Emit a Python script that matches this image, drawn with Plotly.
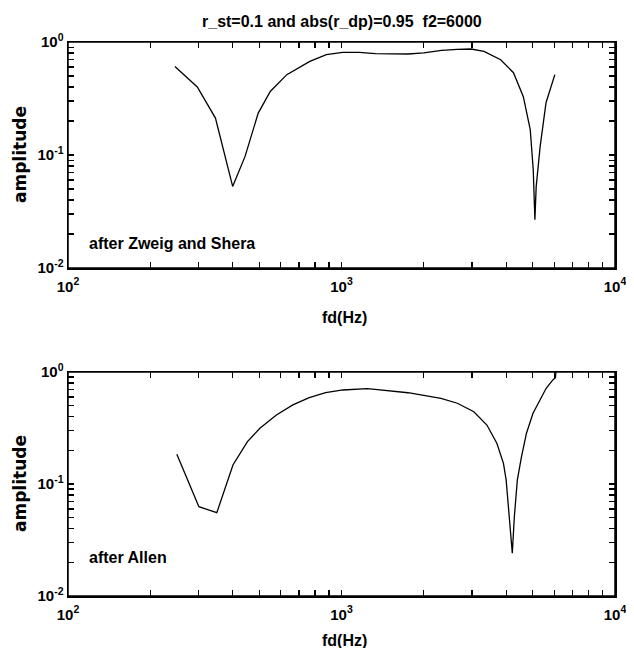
import plotly.graph_objects as go

# ---- data ----
freq_zs = [246, 297, 346, 400, 444, 496, 549, 631, 766, 880, 1010, 1160, 1331, 1550,
           1750, 2000, 2322, 2650, 2978, 3317, 3819, 4254, 4622, 4899, 5024, 5095,
           5150, 5323, 5595, 6026]
amp_zs = [0.608, 0.400, 0.212, 0.0527, 0.0972, 0.235, 0.365, 0.514, 0.673, 0.772,
          0.809, 0.809, 0.788, 0.780, 0.783, 0.800, 0.843, 0.860, 0.867, 0.826,
          0.697, 0.535, 0.328, 0.168, 0.074, 0.0268, 0.0524, 0.118, 0.290, 0.514]

freq_allen = [250, 301, 350, 401, 453, 503, 578, 664, 762, 875, 1012, 1154, 1240, 1327,
              1750, 2310, 2652, 3047, 3401, 3698, 3910, 3999, 4111, 4212, 4285, 4395,
              4550, 4746, 5015, 5303, 5602, 5926, 6058, 6080]
amp_allen = [0.184, 0.0627, 0.0554, 0.148, 0.239, 0.314, 0.413, 0.508, 0.590, 0.653,
             0.691, 0.705, 0.710, 0.701, 0.653, 0.582, 0.526, 0.442, 0.336, 0.231,
             0.153, 0.109, 0.051, 0.0241, 0.051, 0.109, 0.175, 0.284, 0.428, 0.562,
             0.715, 0.849, 0.889, 1.0]

title_text = "r_st=0.1 and abs(r_dp)=0.95\u00a0 f2=6000"
panel_labels = ["after Zweig and Shera", "after Allen"]
x_title = "fd(Hz)"
y_title = "amplitude"

x_major = [100, 1000, 10000]
x_major_text = ["<b>10<sup>2</sup></b>", "<b>10<sup>3</sup></b>", "<b>10<sup>4</sup></b>"]
x_minor = [m * d for d in (100, 1000) for m in range(2, 10)]
y_major = [0.01, 0.1, 1]
y_major_text = ["<b>10<sup>-2</sup></b>", "<b>10<sup>-1</sup></b>", "<b>10<sup>0</sup></b>"]
y_minor = [m * d for d in (0.01, 0.1) for m in range(2, 10)]

# ---- figure ----
# The page body keeps its default 8 px margin, so the figure is 16 px smaller
# than the 634x656 window and every position below is given in figure pixels.
W, H = 618, 640
FONT = "Liberation Sans, Arial, sans-serif"

x_tickvals = x_major + x_minor
x_ticktext = x_major_text + [""] * len(x_minor)
y_tickvals = y_major + y_minor
y_ticktext = y_major_text + [""] * len(y_minor)

fig = go.Figure()
fig.add_trace(go.Scatter(x=freq_zs, y=amp_zs, mode="lines",
                         line=dict(color="black", width=1.3),
                         xaxis="x", yaxis="y", showlegend=False))
fig.add_trace(go.Scatter(x=freq_allen, y=amp_allen, mode="lines",
                         line=dict(color="black", width=1.3),
                         xaxis="x2", yaxis="y2", showlegend=False))

x_dom = [60 / W, 607 / W]
top_dom = [1 - 260 / H, 1 - 34 / H]
bot_dom = [1 - 588 / H, 1 - 364 / H]


def xaxis(anchor):
    return dict(type="log", range=[1.99999, 4.00001], domain=x_dom, anchor=anchor,
                tickmode="array", tickvals=x_tickvals, ticktext=x_ticktext,
                ticks="inside", ticklen=6, tickwidth=1.3, tickcolor="black",
                showline=True, linecolor="black", linewidth=1.5, mirror="ticks",
                showgrid=False, zeroline=False, automargin=False,
                ticklabeloverflow="allow",
                tickfont=dict(family=FONT, size=15, color="black"),
                ticklabelstandoff=4)


def yaxis(anchor, dom):
    return dict(type="log", range=[-2.00001, 0.00001], domain=dom, anchor=anchor,
                tickmode="array", tickvals=y_tickvals, ticktext=y_ticktext,
                ticks="inside", ticklen=6, tickwidth=1.3, tickcolor="black",
                showline=True, linecolor="black", linewidth=1.5, mirror="ticks",
                showgrid=False, zeroline=False, automargin=False,
                ticklabeloverflow="allow",
                tickfont=dict(family=FONT, size=15, color="black"))


annotations = [
    dict(text="<b>" + title_text + "</b>", x=334 / W, y=1 - 14 / H, xref="paper", yref="paper",
         showarrow=False, font=dict(family=FONT, size=16, color="black"),
         xanchor="center", yanchor="middle"),
]
for yc in (147, 476):
    annotations.append(dict(text="<b>" + y_title + "</b>", x=12 / W, y=1 - yc / H,
                            xref="paper", yref="paper", showarrow=False, textangle=-90,
                            font=dict(family="DejaVu Sans", size=17, color="black"),
                            xanchor="center", yanchor="middle"))
for yc in (309, 632):
    annotations.append(dict(text="<b>" + x_title + "</b>", x=336 / W, y=1 - yc / H,
                            xref="paper", yref="paper", showarrow=False,
                            font=dict(family=FONT, size=16, color="black"),
                            xanchor="center", yanchor="middle"))
for lbl, yc in zip(panel_labels, (235, 549)):
    annotations.append(dict(text="<b>" + lbl + "</b>", x=79 / W, y=1 - yc / H,
                            xref="paper", yref="paper", showarrow=False,
                            font=dict(family=FONT, size=16, color="black"),
                            xanchor="left", yanchor="middle"))

# plot frames (axes box) for both panels
shapes = [
    dict(type="rect", xref="x domain", yref="y domain", x0=0, x1=1, y0=0, y1=1,
         line=dict(color="black", width=1.5), fillcolor="rgba(0,0,0,0)", layer="above"),
    dict(type="rect", xref="x2 domain", yref="y2 domain", x0=0, x1=1, y0=0, y1=1,
         line=dict(color="black", width=1.5), fillcolor="rgba(0,0,0,0)", layer="above"),
]

fig.update_layout(
    template="none",
    width=W, height=H,
    margin=dict(l=0, r=0, t=0, b=0, pad=0),
    paper_bgcolor="white", plot_bgcolor="white",
    font=dict(family=FONT, color="black"),
    xaxis=xaxis("y"), yaxis=yaxis("x", top_dom),
    xaxis2=xaxis("y2"), yaxis2=yaxis("x2", bot_dom),
    annotations=annotations,
    shapes=shapes,
    showlegend=False,
)

fig.write_html("out.html", config={"displayModeBar": False, "staticPlot": True})
